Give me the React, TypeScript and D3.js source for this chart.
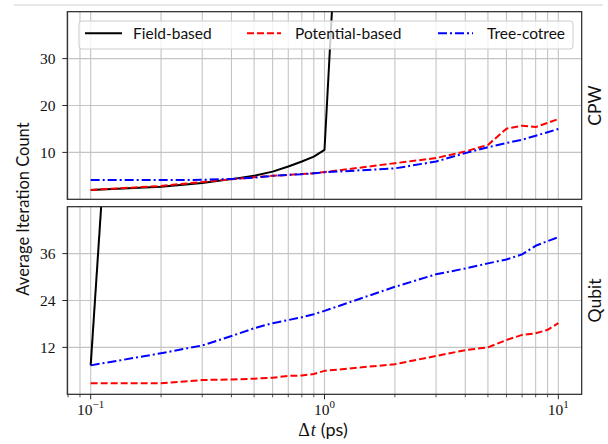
import React from 'react';
import * as d3 from 'd3';

// ---- data ----
const xValues = [0.1, 0.2, 0.3, 0.4, 0.5, 0.6, 0.7, 0.8, 0.9, 1, 2, 3, 4, 5, 6, 7, 8, 9, 10];
const cpwField = [2.0, 2.7, 3.5, 4.3, 5.0, 5.9, 7.0, 8.05, 9.1, 10.55, 290];
const cpwPotential = [2.0, 2.85, 3.7, 4.25, 4.7, 5.0, 5.2, 5.4, 5.55, 5.8, 7.7, 8.8, 10.2, 11.6, 15.05, 15.7, 15.4, 16.3, 17.1];
const cpwTree = [4.1, 4.1, 4.15, 4.35, 4.6, 5.0, 5.2, 5.35, 5.55, 5.75, 6.6, 8.05, 9.85, 11.1, 12.0, 12.7, 13.55, 14.3, 15.0];
const qubitField = [7.4, 280];
const qubitPotential = [2.8, 2.8, 3.65, 3.8, 4.0, 4.25, 4.7, 4.8, 5.2, 6.0, 7.7, 9.8, 11.3, 12.0, 13.9, 15.2, 15.6, 16.5, 18.2];
const qubitTree = [7.4, 10.5, 12.5, 14.9, 16.9, 18.2, 19.0, 19.7, 20.5, 21.35, 27.5, 30.7, 32.2, 33.5, 34.5, 35.8, 38.0, 39.2, 40.2];
const cpwTicks = [10, 20, 30];
const qubitTicks = [12, 24, 36];
const xMajorTicks = [0.1, 1, 10];
const xTickExponents = ['−1', '0', '1'];
const xMinorTicks = [0.08, 0.09, 0.2, 0.3, 0.4, 0.5, 0.6, 0.7, 0.8, 0.9, 2, 3, 4, 5, 6, 7, 8, 9];
const seriesNames = ['Field-based', 'Potential-based', 'Tree-cotree'];
const panelNames = ['CPW', 'Qubit'];
const cpwDomain = [0, 40];
const qubitDomain = [0, 48];

// ---- layout ----
const W = 608, H = 444;
const L = 67.3, R = 581.7;
const P1 = { top: 11.7, bottom: 199.3 };
const P2 = { top: 206.7, bottom: 394.3 };
const GRID = '#c4c4c4';
const FRAME = '#262626';
const SANS = 'Lato, "Noto Sans", sans-serif';
const SERIF = '"Liberation Serif", "DejaVu Serif", serif';
const colors = ['#000000', '#ff0000', '#0000ff'];
const dashes = [undefined, '7,3', '9,3,2,3'];

const x = d3.scaleLog().domain([Math.pow(10, -1.1), Math.pow(10, 1.1)]).range([L, R]);

function Panel({ p, domain, ticks, series, label, id, showX }: any) {
  const y = d3.scaleLinear().domain(domain).range([p.bottom, p.top]);
  const line = (vals: number[]) =>
    d3.line<number>().x((_, i) => x(xValues[i])).y((v) => y(v))(vals) || '';
  return (
    <g>
      <defs>
        <clipPath id={id}>
          <rect x={L} y={p.top} width={R - L} height={p.bottom - p.top} />
        </clipPath>
      </defs>
      {/* grid */}
      {[...xMajorTicks, ...xMinorTicks].map((t) => (
        <line key={'gx' + t} x1={x(t)} x2={x(t)} y1={p.top} y2={p.bottom} stroke={GRID} strokeWidth={1.1} />
      ))}
      {ticks.map((t: number) => (
        <line key={'gy' + t} x1={L} x2={R} y1={y(t)} y2={y(t)} stroke={GRID} strokeWidth={1.1} />
      ))}
      {/* series */}
      <g clipPath={`url(#${id})`}>
        {series.map((vals: number[], i: number) => (
          <path key={i} d={line(vals)} fill="none" stroke={colors[i]} strokeWidth={2}
            strokeDasharray={dashes[i]} strokeLinejoin="round" />
        ))}
      </g>
      {/* frame */}
      <rect x={L} y={p.top} width={R - L} height={p.bottom - p.top} fill="none" stroke={FRAME} strokeWidth={1.2} />
      {/* y ticks */}
      {ticks.map((t: number) => (
        <g key={'ty' + t}>
          <line x1={L - 5} x2={L} y1={y(t)} y2={y(t)} stroke={FRAME} strokeWidth={1} />
          <text x={55.5} y={y(t) + 5.2} textAnchor="end" fontFamily={SERIF} fontSize={15.5} fill="#111">{t}</text>
        </g>
      ))}
      {/* x ticks */}
      {showX && xMajorTicks.map((t, i) => (
        <g key={'tx' + t}>
          <line x1={x(t)} x2={x(t)} y1={p.bottom} y2={p.bottom + 5} stroke={FRAME} strokeWidth={1} />
          <text x={x(t)} y={415} textAnchor="middle" fontFamily={SERIF} fontSize={15.5} fill="#111">
            10<tspan dy={-7} fontSize={11}>{xTickExponents[i]}</tspan>
          </text>
        </g>
      ))}
      {showX && xMinorTicks.map((t) => (
        <line key={'mx' + t} x1={x(t)} x2={x(t)} y1={p.bottom} y2={p.bottom + 3} stroke={FRAME} strokeWidth={0.8} />
      ))}
      {/* right label */}
      <text transform={`translate(${594},${(p.top + p.bottom) / 2}) rotate(-90)`} textAnchor="middle"
        dominantBaseline="central" fontFamily={SANS} fontSize={17.5} fill="#111">{label}</text>
    </g>
  );
}

function Legend() {
  const items = [
    { x1: 85, x2: 122, tx: 133 },
    { x1: 247, x2: 281, tx: 295 },
    { x1: 438, x2: 473, tx: 487 },
  ];
  return (
    <g>
      <rect x={79} y={21} width={494} height={28} rx={3} ry={3} fill="#ffffff" fillOpacity={0.8} stroke="#cccccc" strokeWidth={1} />
      {items.map((it, i) => (
        <g key={i}>
          <line x1={it.x1} x2={it.x2} y1={33.3} y2={33.3} stroke={colors[i]} strokeWidth={2} strokeDasharray={dashes[i]} />
          <text x={it.tx} y={39.3} fontFamily={SANS} fontSize={15.5} fill="#111">{seriesNames[i]}</text>
        </g>
      ))}
    </g>
  );
}

export default function App() {
  return (
    <svg width={W} height={H} viewBox={`0 0 ${W} ${H}`}
      style={{ position: 'absolute', left: 0, top: 0, background: '#fff' }}>
      <rect x={0} y={0} width={W} height={H} fill="#fff" />
      <line x1={14} x2={603} y1={5} y2={5} stroke="#d0d0d0" strokeWidth={1} />
      <Panel p={P1} domain={cpwDomain} ticks={cpwTicks} series={[cpwField, cpwPotential, cpwTree]} label={panelNames[0]} id="clipTop" showX={false} />
      <Panel p={P2} domain={qubitDomain} ticks={qubitTicks} series={[qubitField, qubitPotential, qubitTree]} label={panelNames[1]} id="clipBot" showX={true} />
      <Legend />
      <text transform={`translate(23,209) rotate(-90)`} textAnchor="middle" dominantBaseline="central"
        fontFamily={SANS} fontSize={16.5} fill="#111">Average Iteration Count</text>
      <text x={323} y={436} textAnchor="middle" fontSize={18} fill="#111">
        <tspan fontFamily={SERIF}>Δ</tspan>
        <tspan fontFamily={SERIF} fontStyle="italic" dx={1}>t</tspan>
        <tspan fontFamily={SANS} dx={5}>(ps)</tspan>
      </text>
    </svg>
  );
}
